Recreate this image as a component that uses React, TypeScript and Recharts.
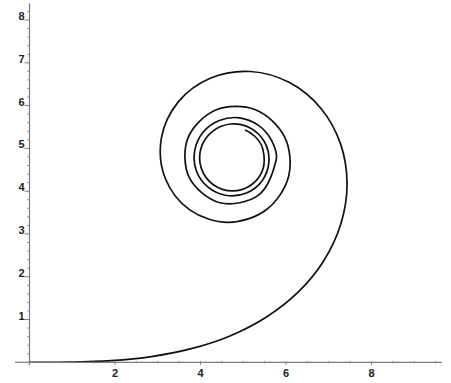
import React from "react";
import { LineChart, Line, XAxis, YAxis, ReferenceLine } from "recharts";

// spiral, in drawing order
const curveX = [
  0, 0.952, 1.904, 2.852, 3.786, 4.689, 5.535, 6.284, 6.885, 7.285, 7.429, 7.275, 6.814, 6.083,
  5.173, 4.241, 3.481, 3.084, 3.178, 3.757, 4.65, 5.54, 6.061, 5.968, 5.286, 4.357, 3.705, 3.739,
  4.453, 5.357, 5.77, 5.662, 5.349, 4.91, 4.442, 4.06, 3.865, 3.903, 4.177, 4.605, 5.073, 5.443,
  5.601, 5.499, 5.163, 4.702, 4.268, 4.01, 4.022, 4.301, 4.747, 5.193, 5.465, 5.454, 5.277, 5.038,
];
const curveY = [
  0, 0.005, 0.04, 0.134, 0.318, 0.616, 1.053, 1.639, 2.375, 3.237, 4.175, 5.11, 5.938, 6.537,
  6.796, 6.644, 6.086, 5.231, 4.295, 3.556, 3.271, 3.565, 4.341, 5.269, 5.903, 5.898, 5.239, 4.314,
  3.729, 3.906, 4.727, 5.186, 5.542, 5.714, 5.651, 5.377, 4.945, 4.477, 4.092, 3.898, 3.955, 4.245,
  4.689, 5.148, 5.477, 5.569, 5.387, 4.996, 4.526, 4.149, 4.005, 4.15, 4.532, 5.0, 5.277, 5.43,
];

const xLabels = [2, 4, 6, 8];
const yLabels = [1, 2, 3, 4, 5, 6, 7, 8];
const xTicks = Array.from({ length: 19 }, (_, i) => (i + 1) * 0.5);
const yTicks = Array.from({ length: 41 }, (_, i) => Math.round((i + 1) * 2) / 10);

const data = curveX.map((x, i) => ({ x, y: curveY[i] }));

const AXIS = "#7a7a7a";
const FONT = "'Liberation Sans', Arial, sans-serif";

const isLabel = (v: number, list: number[]) => list.some((l) => Math.abs(l - v) < 1e-6);

// parametric smoothing (chord-length Catmull-Rom style) so the loops stay round
function spiralCurve(context: any) {
  let pts: number[][] = [];
  const dist = (a: number[], b: number[]) => Math.hypot(b[0] - a[0], b[1] - a[1]);
  return {
    areaStart() {},
    areaEnd() {},
    lineStart() {
      pts = [];
    },
    point(x: number, y: number) {
      pts.push([x, y]);
    },
    lineEnd() {
      const n = pts.length;
      if (!n) return;
      context.moveTo(pts[0][0], pts[0][1]);
      if (n === 1) return;
      const d: number[][] = pts.map((p, i) => {
        if (i === 0 || i === n - 1) return [0, 0];
        const a = pts[i - 1];
        const b = pts[i + 1];
        const s = dist(a, p) + dist(p, b) || 1;
        return [(b[0] - a[0]) / s, (b[1] - a[1]) / s];
      });
      const endDir = (p: number[], q: number[], inner: number[]) => {
        const l = dist(p, q) || 1;
        const u = [(q[0] - p[0]) / l, (q[1] - p[1]) / l];
        return n > 2 ? [2 * u[0] - inner[0], 2 * u[1] - inner[1]] : u;
      };
      d[0] = endDir(pts[0], pts[1], d[1]);
      const last = endDir(pts[n - 2], pts[n - 1], d[n - 2]);
      d[n - 1] = last;
      for (let i = 0; i < n - 1; i++) {
        const p = pts[i];
        const q = pts[i + 1];
        const l = dist(p, q) / 3;
        context.bezierCurveTo(
          p[0] + d[i][0] * l,
          p[1] + d[i][1] * l,
          q[0] - d[i + 1][0] * l,
          q[1] - d[i + 1][1] * l,
          q[0],
          q[1]
        );
      }
    },
  };
}

function XTick({ x, y, payload }: any) {
  const major = isLabel(payload.value, xLabels);
  return (
    <g>
      <line x1={x} x2={x} y1={y - 1} y2={y + (major ? 2.5 : 1)} stroke={AXIS} strokeWidth={1} />
      {major && (
        <text x={x} y={y + 15} textAnchor="middle" fontFamily={FONT} fontWeight="bold" fontSize={11} fill="#222">
          {payload.value}
        </text>
      )}
    </g>
  );
}

function YTick({ x, y, payload }: any) {
  const major = isLabel(payload.value, yLabels);
  return (
    <g>
      <line x1={major ? x - 5 : x - 2} x2={x} y1={y} y2={y} stroke={AXIS} strokeWidth={1} />
      {major && (
        <text x={x - 5} y={y} textAnchor="end" fontFamily={FONT} fontWeight="bold" fontSize={11} fill="#222">
          {payload.value}
        </text>
      )}
    </g>
  );
}

export default function App() {
  return (
    <div style={{ position: "absolute", left: 0, top: 0, background: "#fff" }}>
      <LineChart
        width={451}
        height={383}
        data={data}
        margin={{ top: 3.3, right: 9, bottom: 19.7, left: 28.5 }}
      >
        <XAxis
          type="number"
          dataKey="x"
          domain={[0, 9.65]}
          ticks={xTicks}
          interval={0}
          height={1}
          tickSize={0}
          tickMargin={0}
          tickLine={false}
          axisLine={{ stroke: AXIS, strokeWidth: 1.2 }}
          tick={<XTick />}
          allowDataOverflow
        />
        <YAxis
          type="number"
          dataKey="y"
          domain={[0, 8.39]}
          ticks={yTicks}
          interval={0}
          width={1}
          tickSize={0}
          tickMargin={0}
          tickLine={false}
          axisLine={{ stroke: AXIS, strokeWidth: 1.2 }}
          tick={<YTick />}
          allowDataOverflow
        />
        <ReferenceLine
          segment={[{ x: -0.34, y: 0 }, { x: 0, y: 0 }]}
          stroke={AXIS}
          strokeWidth={1.2}
          ifOverflow="visible"
        />
        <ReferenceLine
          segment={[{ x: 0, y: 0 }, { x: 0, y: -0.07 }]}
          stroke={AXIS}
          strokeWidth={1.2}
          ifOverflow="visible"
        />
        <Line
          type={spiralCurve as any}
          dataKey="y"
          stroke="#111"
          strokeWidth={1.7}
          dot={false}
          activeDot={false}
          isAnimationActive={false}
        />
      </LineChart>
    </div>
  );
}
